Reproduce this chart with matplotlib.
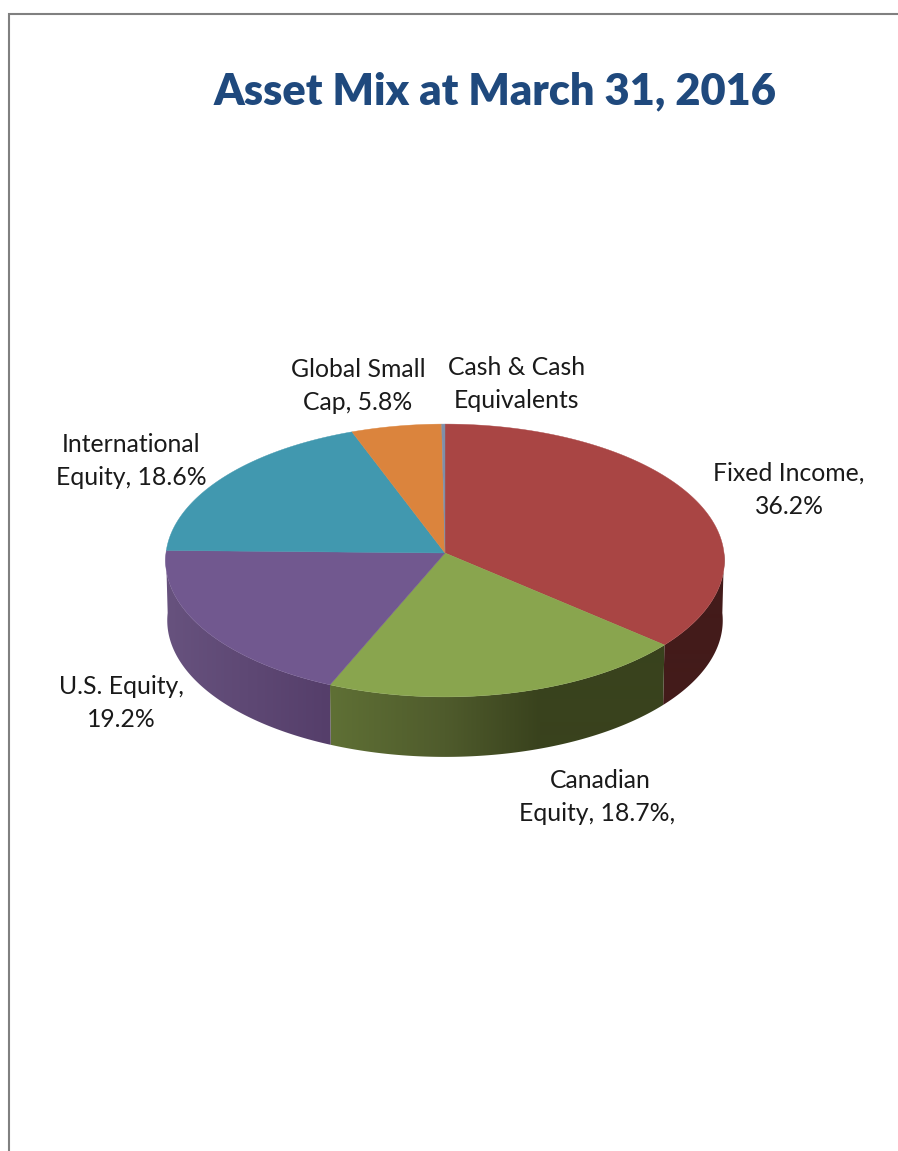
import numpy as np
import matplotlib
matplotlib.use("Agg")
import matplotlib.pyplot as plt
from matplotlib.colors import to_rgb
from matplotlib.patches import Polygon

# ---- data -----
categories = ["Fixed Income", "Canadian Equity", "U.S. Equity",
              "International Equity", "Global Small Cap", "Cash & Cash Equivalents"]
slice_shares = [36.3, 20.1, 18.9, 19.0, 5.5, 0.2]
top_colors = ["#A94544", "#89A54E", "#71588F", "#4198AF", "#DB843D", "#7F8FA9"]
# wall shading: (x pixel, colour) stops per slice
wall_stops = {
    0: [(664, "#431B1A"), (724, "#431B1A")],
    1: [(330, "#5F7035"), (445, "#4F5B2C"), (540, "#39421D"), (664, "#39421D")],
    2: [(166, "#67527E"), (330, "#553E6A")],
}
labels = ["Fixed Income,\n36.2%", "Canadian\nEquity, 18.7%, ", "U.S. Equity,\n19.2%",
          "International\nEquity, 18.6%", "Global Small\nCap, 5.8%", "Cash & Cash\nEquivalents"]
label_xy = [(789, 490), (600, 797), (121, 703), (131, 461), (358, 386), (517, 384)]
title = "Asset Mix at March 31, 2016"

W, H = 898, 1151
CX, CY = 445, 553
RX, RY, K, DEPTH = 279, 136, 0.0549, 60
BOTTOM_SCALE = 0.994

plt.rcParams["font.family"] = ["Lato", "DejaVu Sans"]
fig = plt.figure(figsize=(W / 100, H / 100), dpi=100)
ax = fig.add_axes([0, 0, 1, 1])
ax.axis("off")


def project(theta):
    """theta: clockwise from 12 o'clock, radians. Mild perspective."""
    u, v = np.sin(theta), np.cos(theta)
    w = 1 / (1 + K * v)
    return CX + RX * u * w, CY - RY * v * w


fracs = np.array(slice_shares) / sum(slice_shares)
edges = np.concatenate([[0], np.cumsum(fracs)]) * 2 * np.pi

# walls: a horizontal gradient image clipped to each slice's side
for i, stops in wall_stops.items():
    lo, hi = max(edges[i], np.pi * 0.5), min(edges[i + 1], np.pi * 1.5)
    t = np.linspace(lo, hi, 300)
    x, y = project(t)
    xb = CX + (x - CX) * BOTTOM_SCALE
    poly = Polygon(np.c_[np.r_[x, xb[::-1]], np.r_[y, (y + DEPTH)[::-1]]],
                   closed=True, transform=ax.transData, facecolor="none", edgecolor="none")
    ax.add_patch(poly)
    xs = np.arange(W)
    cols = np.array([to_rgb(s[1]) for s in stops])
    grad = np.stack([np.interp(xs, [s[0] for s in stops], cols[:, c]) for c in range(3)], axis=-1)
    im = ax.imshow(grad[np.newaxis, :, :], extent=(0, W, H, 0), aspect="auto",
                   interpolation="bilinear", zorder=2)
    im.set_clip_path(poly)

# top faces
for i in range(len(slice_shares)):
    t = np.linspace(edges[i], edges[i + 1], 200)
    x, y = project(t)
    ax.fill(np.r_[CX, x], np.r_[CY, y], facecolor=top_colors[i],
            edgecolor=top_colors[i], linewidth=0.3, zorder=3)

ax.set_xlim(0, W)
ax.set_ylim(H, 0)

# labels
for txt, (lx, ly) in zip(labels, label_xy):
    ax.text(lx, ly, txt, ha="center", va="center", fontsize=17.8, color="#1a1a1a",
            linespacing=1.56, zorder=5)

ax.text(495.5, 91.5, title, ha="center", va="center", fontsize=31.2, fontweight="heavy",
        color="#1F497D", zorder=5)

# page border
ax.plot([9, 9, W], [H, 14, 14], color="#808080", linewidth=1.5, zorder=6,
        solid_joinstyle="miter")

fig.savefig("out.png", dpi=100, facecolor="white")
